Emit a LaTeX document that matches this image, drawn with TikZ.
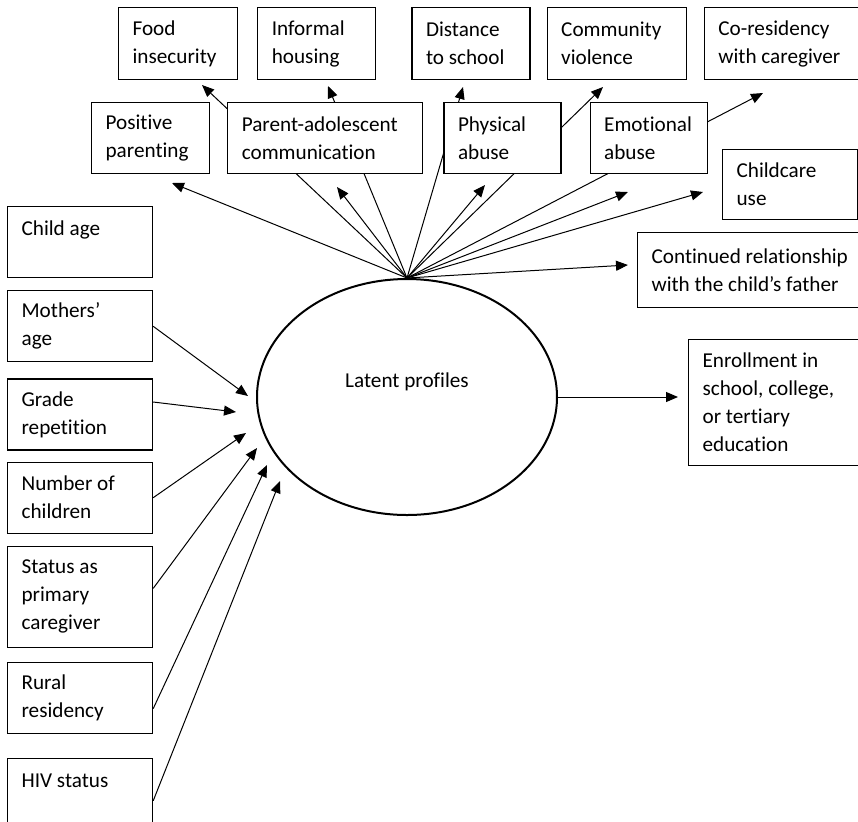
\documentclass[tikz,border=0pt]{standalone}
\usepackage{fontspec}
\setmainfont[Ligatures={NoCommon}]{Carlito}
\usetikzlibrary{arrows.meta, positioning, backgrounds, shapes.geometric}

\begin{document}
\begin{tikzpicture}[
    x=0.5pt, y=-0.5pt,
    node distance=6pt,
    box/.style={rectangle, draw=black, fill=white, line width=0.6pt, anchor=north west, align=flush left,
                inner xsep=7pt, inner ysep=2pt, minimum height=35.5pt, font=\fontsize{10.6}{14}\selectfont},
    latent/.style={ellipse, draw=black, fill=white, line width=1pt, minimum width=150pt, minimum height=118pt},
    link/.style={line width=0.5pt},
    arrow/.style={link, -{Triangle[length=6pt, width=5pt]}}
]
    \useasboundingbox (0,0) rectangle (858,821);
    \clip (0,0) rectangle (858,821);

    \node[box, text width=45.5pt, minimum height=36pt] at (118,7) (food) {Food\\insecurity};
    \node[box, text width=45pt, minimum height=36pt, right=9.5pt of food] (housing) {Informal\\housing};
    \node[box, text width=45pt, minimum height=36pt, right=17.5pt of housing] (distance) {Distance\\to school};
    \node[box, text width=55.5pt, minimum height=36pt, right=8pt of distance] (violence) {Community\\violence};
    \node[box, text width=63pt, minimum height=36pt, right=8.5pt of violence] (coresid) {Co-residency\\with caregiver};

    \node[box, text width=45pt] at (91,102) (parenting) {Positive\\parenting};
    \node[box, text width=83.5pt, right=8.5pt of parenting] (communic) {Parent-adolescent\\communication};
    \node[box, text width=44.5pt, right=10pt of communic] (physical) {Physical\\abuse};
    \node[box, text width=44.5pt, right=14pt of physical] (emotional) {Emotional\\abuse};

    \node[box, text width=53.5pt, minimum height=35pt] at (722,149) (childcare) {Childcare\\use};
    \node[box, text width=102.5pt, minimum height=37.5pt] at (637,232) (father) {Continued relationship\\with the child’s father};
    \node[box, text width=77pt, minimum height=63pt] at (688,339) (enrol) {Enrollment in\\school, college,\\or tertiary\\education};

    \node[box, text width=58.5pt] at (7,206) (childage) {Child age\\~};
    \node[box, text width=58.5pt, below=6pt of childage] (mothage) {Mothers’\\age};
    \node[box, text width=58.5pt, below=8pt of mothage] (grade) {Grade\\repetition};
    \node[box, text width=58.5pt, below=5.5pt of grade] (nchild) {Number of\\children};
    \node[box, text width=58.5pt, minimum height=50.5pt, below=6pt of nchild] (primary) {Status as\\primary\\caregiver};
    \node[box, text width=58.5pt, below=7pt of primary] (rural) {Rural\\residency};
    \node[box, text width=58.5pt, minimum height=36pt, below=12pt of rural] (hiv) {HIV status\\~};

    \node[latent, label={[font=\fontsize{10.6}{14}\selectfont, yshift=7.5pt]center:Latent profiles}] at (407,397) (lp) {};

    \coordinate (tparenting) at (172,183);
    \coordinate (tfood) at (202,85);
    \coordinate (tcommunic) at (337,187);
    \coordinate (thousing) at (328,86);
    \coordinate (tdistance) at (463,87);
    \coordinate (tphysical) at (485,185);
    \coordinate (tviolence) at (603,87);
    \coordinate (tcoresid) at (763,93);
    \coordinate (temotional) at (628,192);
    \coordinate (tchildcare) at (703,192);
    \coordinate (tfather) at (628,265);
    \coordinate (tenrol) at (678,397);

    \coordinate (imothage) at (248,396);
    \coordinate (igrade) at (236,412);
    \coordinate (inchild) at (246,433);
    \coordinate (iprimary) at (257,448);
    \coordinate (irural) at (267,465);
    \coordinate (ihiv) at (280,481);

    \begin{scope}[on background layer]
        \draw[arrow] (lp.north) -- (tparenting);
        \draw[arrow] (lp.north) -- (tfood);
        \draw[arrow] (lp.north) -- (tcommunic);
        \draw[arrow] (lp.north) -- (thousing);
        \draw[arrow] (lp.north) -- (tdistance);
        \draw[arrow] (lp.north) -- (tphysical);
        \draw[arrow] (lp.north) -- (tviolence);
        \draw[arrow] (lp.north) -- (tcoresid);
        \draw[arrow] (lp.north) -- (temotional);
        \draw[arrow] (lp.north) -- (tchildcare);
        \draw[arrow] (lp.north) -- (tfather);
    \end{scope}
    \draw[arrow] (lp.east) -- (tenrol);

    \draw[arrow] (mothage.east) -- (imothage);
    \draw[arrow] ([yshift=6.25pt]grade.east) -- (igrade);
    \draw[arrow] (nchild.east) -- (inchild);
    \draw[arrow] ([yshift=4.25pt]primary.east) -- (iprimary);
    \draw[arrow] ([yshift=-5.25pt]rural.east) -- (irural);
    \draw[arrow] ([yshift=-3pt]hiv.east) -- (ihiv);
\end{tikzpicture}
\end{document}
